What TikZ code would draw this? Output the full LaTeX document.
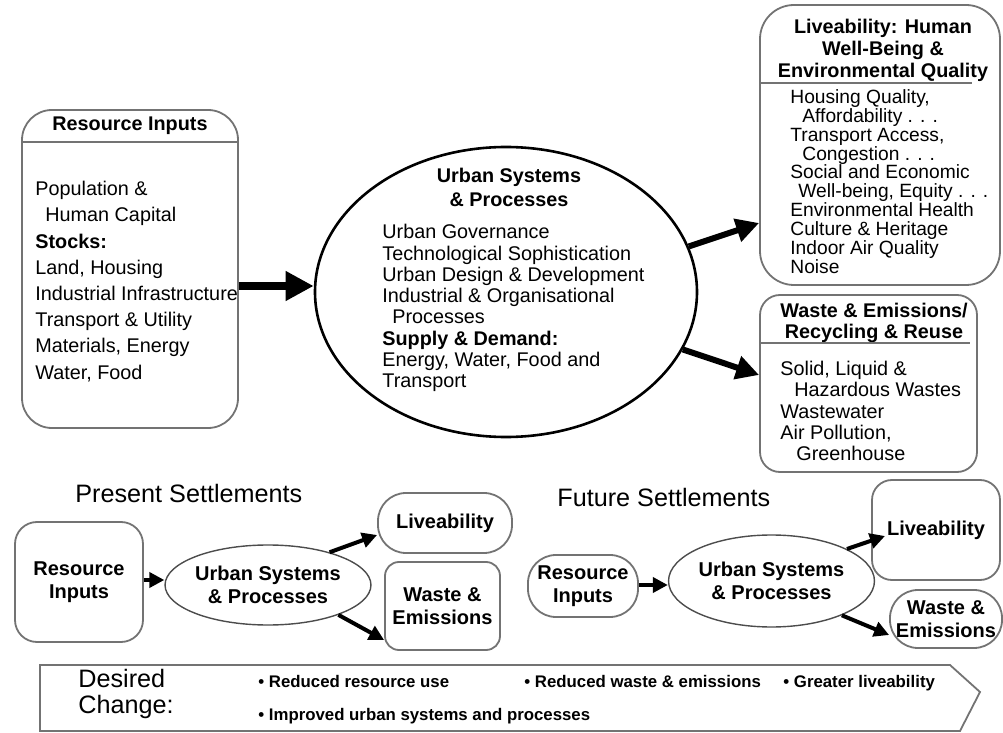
\documentclass[tikz,border=0pt]{standalone}
\usepackage{fontspec}
\setmainfont{Liberation Sans}
\usetikzlibrary{shapes.geometric,arrows.meta}

\begin{document}
\begin{tikzpicture}[x=0.5pt,y=-0.5pt,
	box/.style={draw=black!55, line width=0.9pt, inner sep=0pt},
	sep/.style={draw=black!55, line width=0.9pt},
	oval/.style={draw=black, ellipse, inner sep=0pt},
	hd/.style={font=\fontsize{9.9}{#1}\selectfont\bfseries, align=center, inner sep=0pt},
	hd/.default=12pt,
	lst/.style={align=left, anchor=north west, inner sep=0pt},
	sml/.style={font=\fontsize{10}{11.5}\selectfont\bfseries, align=center},
	ttl/.style={font=\fontsize{12.6}{15}\selectfont, anchor=west, inner sep=0pt},
	blt/.style={font=\fontsize{8.4}{10}\selectfont\bfseries, anchor=west, inner sep=0pt, text height=6.2pt, text depth=1.8pt},
	arr/.style n args={2}{line width=#1, -{Triangle[length=#2, width=#2]}}]
	\useasboundingbox (0,0) rectangle (1003,733);

	\node[box, rounded corners=15pt, minimum width=108pt, minimum height=159pt] (resin) at (130,269) {};
	\node[hd] (resinhd) at (130,126) {Resource Inputs};
	\draw[sep] (resin.west |- 0,142) -- (resin.east |- 0,142);
	\node[lst, font=\fontsize{9.9}{13.1}\selectfont] (resinls) at (35,181) {Population \&\\\hspace*{5pt}Human Capital\\\textbf{Stocks:}\\Land, Housing\\Industrial Infrastructure\\Transport \& Utility\\Materials, Energy\\Water, Food};

	\node[oval, line width=1.3pt, minimum width=191pt, minimum height=145pt] (urb) at (506,292) {};
	\node[hd] (urbhd) at (509,187) {Urban Systems\\\& Processes};
	\node[lst, font=\fontsize{9.9}{10.65}\selectfont] (urbls) at (382,224) {Urban Governance\\Technological Sophistication\\Urban Design \& Development\\Industrial \& Organisational\\\hspace*{5pt}Processes\\\textbf{Supply \& Demand:}\\Energy, Water, Food and\\Transport};

	\node[box, rounded corners=17pt, minimum width=120pt, minimum height=140pt] (liv) at (880,145) {};
	\node[hd=11pt] (livhd) at (883,50) {Liveability: Human\\Well-Being \&\\Environmental Quality};
	\draw[sep] (liv.west |- 0,83) -- (972,83);
	\node[lst, font=\fontsize{9.6}{9.45}\selectfont] (livls) at (790,89) {Housing Quality,\\\hspace*{6pt}Affordability . . .\\Transport Access,\\\hspace*{6pt}Congestion . . .\\Social and Economic\\\hspace*{4pt}Well-being, Equity . . .\\Environmental Health\\Culture \& Heritage\\Indoor Air Quality\\Noise};

	\node[box, rounded corners=10pt, minimum width=108.5pt, minimum height=88.5pt] (wst) at (868.5,383.5) {};
	\node[hd=10.5pt] (wsthd) at (874,322.5) {Waste \& Emissions/\\Recycling \& Reuse};
	\draw[sep] (wst.west |- 0,343) -- (970,343);
	\node[lst, font=\fontsize{9.9}{10.6}\selectfont] (wstls) at (780,361) {Solid, Liquid \&\\\hspace*{7pt}Hazardous Wastes\\Wastewater\\Air Pollution,\\\hspace*{8pt}Greenhouse};

	\draw[arr={4pt}{14pt}] (resin.east |- 0,286) -- (urb.west |- 0,286);
	\draw[arr={3pt}{11.5pt}] (urb.14) -- (liv.west |- 0,223);
	\draw[arr={3pt}{11.5pt}] (urb.-18) -- (wst.west |- 0,375);

	\node[ttl] (prst) at (75,493) {Present Settlements};
	\node[box, rounded corners=11pt, minimum width=64pt, minimum height=60pt, sml] (pri) at (79,582) {Resource\\Inputs};
	\node[oval, line width=0.7pt, draw=black!70, minimum width=98.5pt, minimum height=40pt, sml] (pur) at (268,585) {Urban Systems\\\& Processes};
	\node[box, rounded corners=14pt, minimum width=67pt, minimum height=30pt, sml] (pli) at (445,523) {Liveability};
	\node[box, rounded corners=7pt, minimum width=57.5pt, minimum height=44pt, sml] (pwe) at (442.5,606) {Waste \&\\Emissions};
	\draw[arr={2pt}{7.5pt}] (pri.east |- 0,580) -- (pur.west |- 0,580);
	\draw[arr={2pt}{7.5pt}] (pur.28) -- (pli.west |- 0,535);
	\draw[arr={2pt}{7.5pt}] (pur.-23) -- (pwe.west |- 0,640);

	\node[ttl] (futr) at (557,497) {Future Settlements};
	\node[box, rounded corners=14pt, minimum width=55pt, minimum height=31pt, sml] (fri) at (583,586) {Resource\\Inputs};
	\node[oval, line width=0.7pt, draw=black!70, minimum width=96.5pt, minimum height=46pt, sml] (fur) at (771.5,581) {Urban Systems\\\& Processes};
	\node[box, rounded corners=10pt, minimum width=64pt, minimum height=50pt, sml] (fli) at (936,530) {Liveability};
	\node[box, rounded corners=14pt, minimum width=56pt, minimum height=29pt, sml] (fwe) at (946,619) {Waste \&\\Emissions};
	\coordinate (fliin) at (885,536);
	\draw[arr={2pt}{7.5pt}] (fri.east |- 0,585) -- (fur.west |- 0,585);
	\draw[arr={2pt}{7.5pt}] (fur.23) -- (fliin);
	\draw[arr={2pt}{7.5pt}] (fur.-26) -- (fwe.west |- 0,635);

	\draw[sep] (40,665) -- (950,665) -- (980,692) -- (960,731) -- (40,731) -- cycle;
	\node[ttl] (dsr) at (78,678) {Desired};
	\node[ttl] (chg) at (78,707) {Change:};
	\foreach \x/\y/\t [count=\n] in {258/683/Reduced resource use, 524/683/Reduced waste \& emissions, 783/683/Greater liveability, 258/716/Improved urban systems and processes}{
		\node[blt] (b\n) at (\x,\y) {\textbullet\ \t};
	}
\end{tikzpicture}
\end{document}
